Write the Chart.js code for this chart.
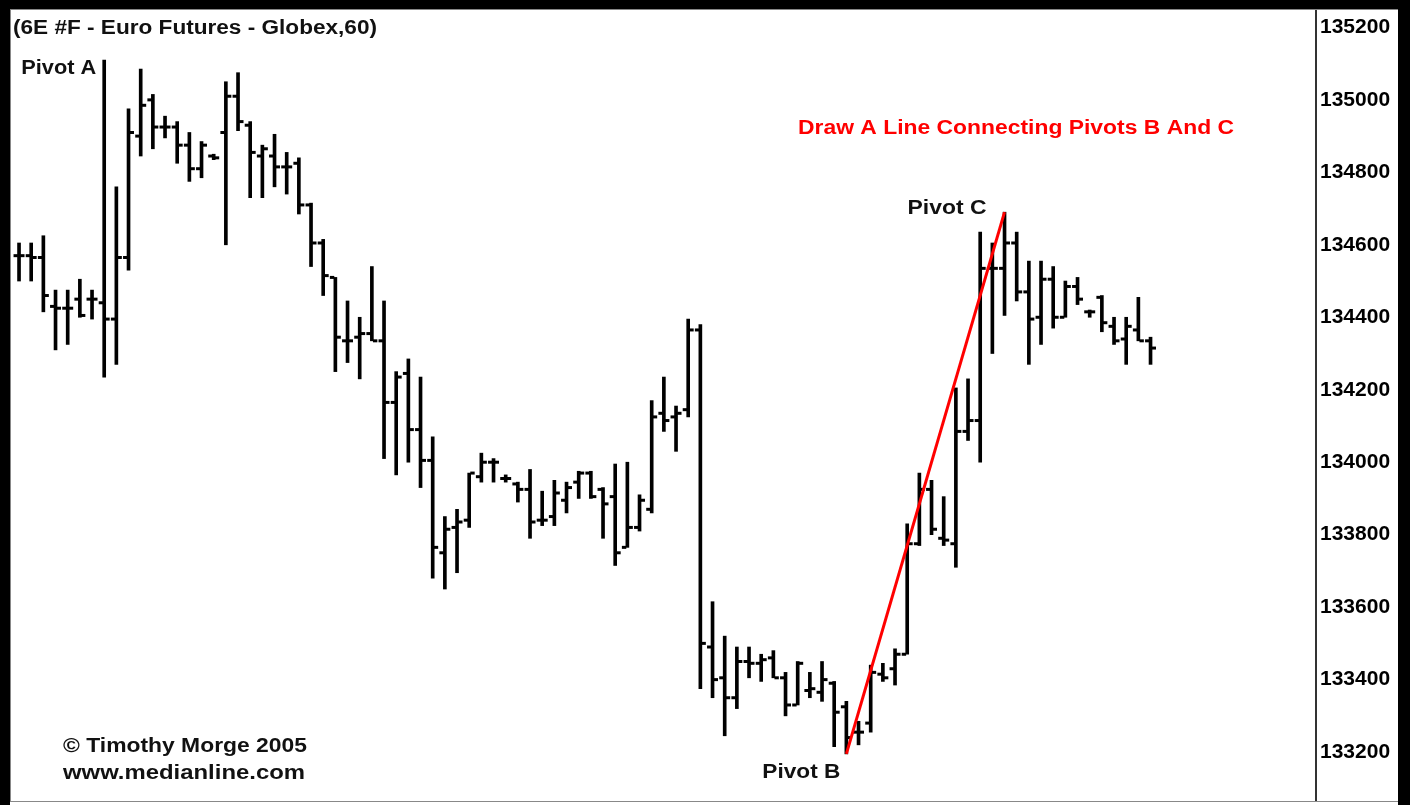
<!DOCTYPE html>
<html lang="en">
<head>
    <meta charset="UTF-8">
    <title>Euro Futures - Globex,60</title>
    <script src="https://cdn.jsdelivr.net/npm/chart.js"></script>
    <style>
        body {
            margin: 0;
            padding: 0;
            background-color: #fff;
        }
        .wrap {
            width: 1410px;
            height: 805px;
            position: relative;
        }
    </style>
</head>
<body>
    <div class="wrap">
        <canvas id="grafico" width="1410" height="805"></canvas>
    </div>

    <script>
        // OHLC values, left to right
        const opens = [
            134570, 134570, 134565, 134430, 134425, 134450, 134450, 134440, 134395, 134565,
            134900, 135000, 134925, 134925, 134875, 134810, 134845, 134910, 135010, 134930,
            134845, 134845, 134815, 134825, 134710, 134605, 134510, 134335, 134345, 134355,
            134335, 134165, 134245, 134090, 134005, 133750, 133820, 133840, 133960, 134000,
            133955, 133940, 133925, 133840, 133850, 133895, 133945, 133970, 133925, 133905,
            133765, 133820, 133870, 134135, 134125, 134145, 134365, 133490, 133405, 133350,
            133450, 133445, 133460, 133405, 133330, 133370, 133365, 133390, 133325, 133255,
            133280, 133415, 133430, 133470, 133775, 133925, 133790, 133775, 134085, 134115,
            134535, 134535, 134605, 134470, 134400, 134505, 134400, 134485, 134415, 134455,
            134375, 134340, 134365, 134335
        ];
        const highs = [
            134605, 134605, 134625, 134475, 134475, 134505, 134475, 135110, 134760, 134975,
            135085, 135015, 134955, 134940, 134910, 134885, 134850, 135050, 135075, 134940,
            134875, 134905, 134855, 134840, 134715, 134615, 134510, 134445, 134400, 134540,
            134445, 134250, 134285, 134235, 134070, 133850, 133870, 133970, 134025, 134010,
            133965, 133945, 133980, 133920, 133950, 133945, 133975, 133975, 133930, 133995,
            134000, 133910, 134170, 134235, 134155, 134395, 134380, 133615, 133520, 133490,
            133490, 133470, 133480, 133420, 133450, 133420, 133450, 133395, 133340, 133285,
            133440, 133445, 133485, 133830, 133970, 133950, 133905, 134205, 134230, 134635,
            134605, 134690, 134635, 134555, 134555, 134540, 134500, 134510, 134420, 134460,
            134400, 134400, 134455, 134345
        ];
        const lows = [
            134500, 134500, 134415, 134310, 134325, 134400, 134395, 134235, 134270, 134530,
            134845, 134865, 134895, 134825, 134775, 134785, 134835, 134600, 134915, 134730,
            134730, 134760, 134740, 134685, 134540, 134460, 134250, 134275, 134230, 134335,
            134010, 133965, 134000, 133930, 133680, 133650, 133695, 133820, 133945, 133945,
            133945, 133890, 133790, 133825, 133825, 133860, 133900, 133900, 133790, 133715,
            133765, 133810, 133860, 134085, 134030, 134125, 133375, 133350, 133245, 133320,
            133405, 133395, 133405, 133300, 133330, 133350, 133340, 133215, 133195, 133220,
            133255, 133395, 133385, 133470, 133770, 133800, 133770, 133710, 134060, 134000,
            134300, 134405, 134445, 134270, 134325, 134370, 134400, 134435, 134400, 134360,
            134325, 134270, 134335, 134270
        ];
        const closes = [
            134570, 134565, 134460, 134425, 134425, 134405, 134450, 134395, 134565, 134910,
            134985, 134925, 134925, 134875, 134810, 134875, 134840, 135010, 134940, 134855,
            134865, 134815, 134815, 134710, 134605, 134515, 134345, 134335, 134355, 134335,
            134165, 134235, 134090, 134005, 133765, 133815, 133835, 133970, 134000, 134000,
            133955, 133925, 133835, 133840, 133915, 133930, 133970, 133905, 133885, 133750,
            133820, 133895, 134125, 134115, 134135, 134365, 133500, 133400, 133350, 133450,
            133445, 133455, 133405, 133330, 133445, 133375, 133400, 133310, 133240, 133255,
            133420, 133405, 133470, 133775, 133925, 133815, 133785, 134085, 134115, 134535,
            134535, 134605, 134470, 134395, 134505, 134400, 134485, 134450, 134415, 134385,
            134335, 134375, 134335, 134315
        ];

        const priceTicks = [133200, 133400, 133600, 133800, 134000, 134200, 134400, 134600, 134800, 135000, 135200];

        // where the pivots sit (bar index)
        const pivotA = 7;
        const pivotB = 68;
        const pivotC = 81;

        const fontBold = 'bold 20px "Liberation Sans", Arial, sans-serif';

        const barre = lows.map((l, i) => ({ x: i, y: [l, highs[i]] }));
        const aperture = opens.map((o, i) => ({ x: i - 0.27, y: o }));
        const chiusure = closes.map((c, i) => ({ x: i + 0.27, y: c }));

        // writes a label stretched to the width it has in the picture (old bitmap font is wider)
        function testo(c, str, x, y, larghezza) {
            const w = c.measureText(str).width;
            c.save();
            c.translate(x, y);
            c.scale(larghezza / w, 1);
            c.fillText(str, 0, 0);
            c.restore();
        }

        // frame + text labels
        const cornice = {
            id: 'cornice',
            afterDraw(chart) {
                const c = chart.ctx;
                const a = chart.chartArea;
                const xs = chart.scales.x;
                const ys = chart.scales.y;
                c.save();
                // thin gray frame of the plot
                c.strokeStyle = '#888';
                c.lineWidth = 1;
                c.strokeRect(a.left - 0.5, a.top - 0.5, chart.width - a.left - 11, a.bottom - a.top + 1);
                // heavy black border
                c.fillStyle = '#000';
                c.fillRect(0, 0, chart.width, 9);
                c.fillRect(0, 0, 10, chart.height);
                c.fillRect(chart.width - 12, 0, 12, chart.height);

                c.font = fontBold;
                c.fillStyle = '#111';
                c.textBaseline = 'middle';
                c.textAlign = 'left';
                testo(c, '(6E #F - Euro Futures - Globex,60)', 13, 28, 364);

                let px = xs.getPixelForValue(pivotA) - 83;
                testo(c, 'Pivot A', px, ys.getPixelForValue(highs[pivotA]) + 8, 75);
                px = xs.getPixelForValue(pivotC) - 97;
                testo(c, 'Pivot C', px, ys.getPixelForValue(highs[pivotC]) - 4, 79);
                px = xs.getPixelForValue(pivotB) - 84;
                testo(c, 'Pivot B', px, ys.getPixelForValue(lows[pivotB]) + 19, 78);

                testo(c, '\u00a9 Timothy Morge 2005', 63, 746, 244);
                testo(c, 'www.medianline.com', 63, 773, 242);

                c.fillStyle = '#ff0000';
                testo(c, 'Draw A Line Connecting Pivots B And C', 798, 128, 436);
                c.restore();
            }
        };

        const ctx = document.getElementById('grafico').getContext('2d');
        const chart = new Chart(ctx, {
            type: 'bar',
            data: {
                datasets: [
                    {
                        label: 'High-Low',
                        data: barre,
                        backgroundColor: '#000',
                        borderWidth: 0,
                        barThickness: 3,
                        order: 3
                    },
                    {
                        type: 'scatter',
                        label: 'Open',
                        data: aperture,
                        pointStyle: 'line',
                        pointRadius: 2.2,
                        borderColor: '#000',
                        borderWidth: 3,
                        order: 2
                    },
                    {
                        type: 'scatter',
                        label: 'Close',
                        data: chiusure,
                        pointStyle: 'line',
                        pointRadius: 2.2,
                        borderColor: '#000',
                        borderWidth: 3,
                        order: 2
                    },
                    {
                        type: 'line',
                        label: 'B-C',
                        data: [
                            { x: pivotB, y: lows[pivotB] },
                            { x: pivotC, y: highs[pivotC] }
                        ],
                        borderColor: '#ff0000',
                        borderWidth: 3,
                        pointRadius: 0,
                        order: 1
                    }
                ]
            },
            options: {
                responsive: false,
                animation: false,
                events: [],
                layout: {
                    autoPadding: false,
                    padding: { left: 11, top: 10, right: 12, bottom: 4 }
                },
                plugins: {
                    legend: { display: false },
                    tooltip: { enabled: false }
                },
                scales: {
                    x: {
                        type: 'linear',
                        min: -0.66,
                        max: 106.6,
                        offset: false,
                        display: false
                    },
                    y: {
                        position: 'right',
                        min: 133065,
                        max: 135248,
                        afterBuildTicks: (scale) => {
                            scale.ticks = priceTicks.map(v => ({ value: v }));
                        },
                        afterFit: (scale) => {
                            scale.width = 82;
                            // labels fit inside the range, no extra room needed
                            scale.paddingTop = 0;
                            scale.paddingBottom = 0;
                        },
                        grid: { drawOnChartArea: false, drawTicks: false },
                        border: { display: true, color: '#333', width: 2 },
                        ticks: {
                            padding: 4,
                            color: '#000',
                            font: { family: '"Liberation Sans", Arial, sans-serif', size: 21, weight: 'bold' },
                            callback: (v) => String(v)
                        }
                    }
                }
            },
            plugins: [cornice]
        });
    </script>
</body>
</html>
